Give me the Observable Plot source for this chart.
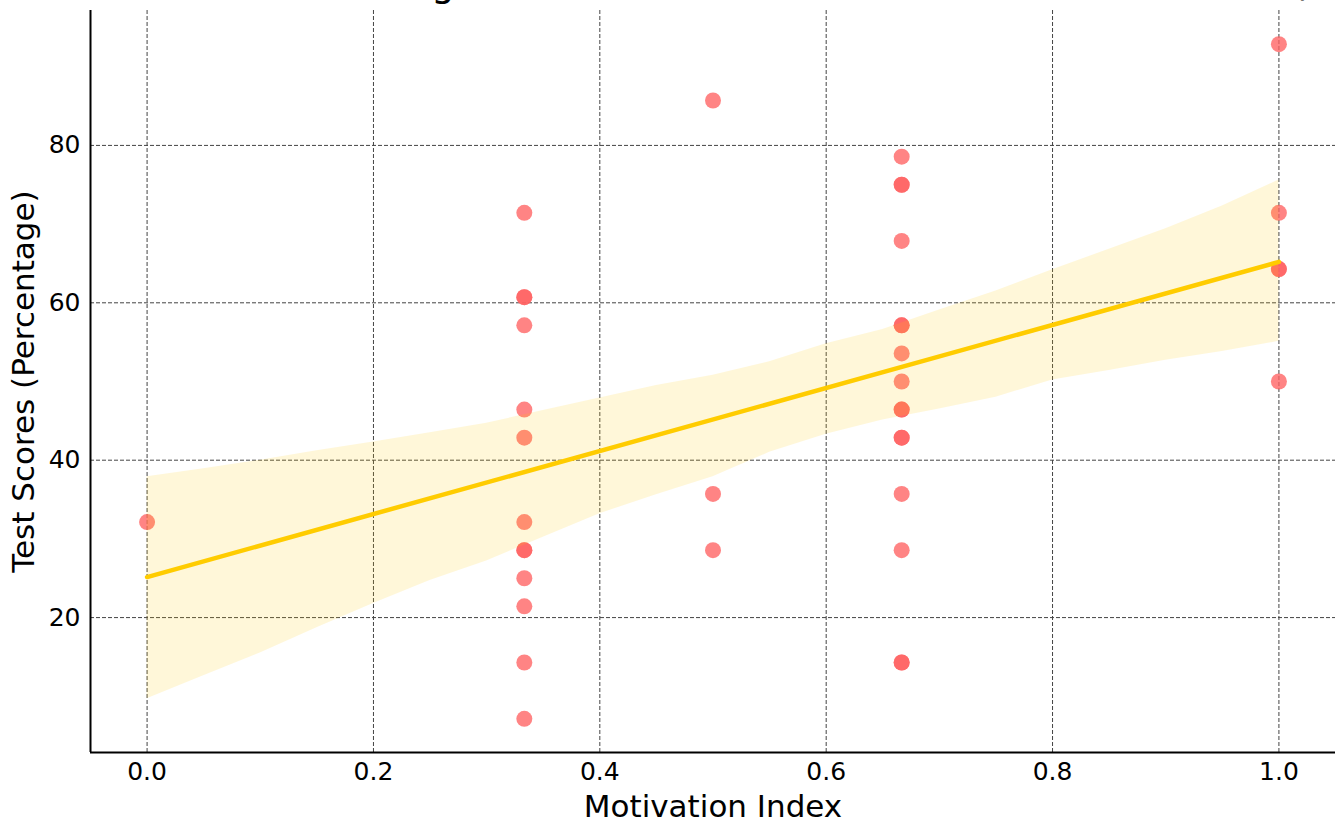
<!DOCTYPE html>
<html>
<head>
<meta charset="utf-8">
<script src="https://cdn.jsdelivr.net/npm/d3@7"></script>
<script src="https://cdn.jsdelivr.net/npm/@observablehq/plot@0.6"></script>
<style>
  html, body { margin: 0; padding: 0; background: #fff; overflow: hidden; }
  #wrap { position: relative; width: 1340px; height: 824px; }
  #title { position: absolute; left: 712px; top: -35px; transform: translateX(-50%);
           white-space: nowrap; font-family: "DejaVu Sans", sans-serif; font-size: 37px;
           line-height: 37px; color: #000; }
  #chart { position: absolute; left: 0; top: 0; }
</style>
</head>
<body>
<div id="wrap">
  <div id="chart"></div>
  <div id="title">Scatter Plot with Regression Line: Motivation Index vs Test Scores (%)</div>
</div>
<script>
// ---- data ----
const motivation = [
  0,
  0.3333, 0.3333, 0.3333, 0.3333, 0.3333, 0.3333, 0.3333, 0.3333, 0.3333, 0.3333, 0.3333, 0.3333, 0.3333,
  0.5, 0.5, 0.5,
  0.6667, 0.6667, 0.6667, 0.6667, 0.6667, 0.6667, 0.6667, 0.6667, 0.6667, 0.6667, 0.6667, 0.6667, 0.6667, 0.6667, 0.6667, 0.6667,
  1, 1, 1, 1, 1
];
const scores = [
  32.14,
  71.43, 60.71, 60.71, 57.14, 46.43, 42.86, 32.14, 28.57, 28.57, 25.00, 21.43, 14.29, 7.14,
  85.71, 35.71, 28.57,
  78.57, 75.00, 75.00, 67.86, 57.14, 57.14, 53.57, 50.00, 46.43, 46.43, 42.86, 42.86, 35.71, 28.57, 14.29, 14.29,
  92.86, 71.43, 64.29, 64.29, 50.00
];
// regression fit line
const fitX = [0, 1];
const fitY = [25.15, 65.2];
// confidence band
const bandX  = [0, 0.05, 0.1, 0.15, 0.2, 0.25, 0.3, 0.35, 0.4, 0.45, 0.5, 0.55, 0.6, 0.65, 0.7, 0.75, 0.8, 0.85, 0.9, 0.95, 1.0];
const bandHi = [37.9, 38.9, 40.0, 41.2, 42.3, 43.5, 44.7, 46.3, 47.9, 49.5, 50.8, 52.5, 54.8, 56.6, 59.1, 61.5, 64.2, 66.8, 69.4, 72.3, 75.6];
const bandLo = [9.7, 12.6, 15.5, 18.7, 21.8, 24.7, 27.2, 30.2, 33.2, 35.6, 37.9, 41.0, 43.3, 45.1, 46.5, 48.0, 50.2, 51.4, 52.7, 53.8, 55.1];
// ticks
const xTicks = [0, 0.2, 0.4, 0.6, 0.8, 1.0];
const yTicks = [20, 40, 60, 80];
const xLabel = "Motivation Index";
const yLabel = "Test Scores (Percentage)";

const xDomain = [-0.05, 1.05];
const yDomain = [2.857, 97.143];

const pts = scores.map((_, i) => i);
const band = bandX.map((_, i) => i);
const fit = fitX.map((_, i) => i);

const chart = Plot.plot({
  width: 1340,
  height: 824,
  marginLeft: 90,
  marginRight: 5,
  marginTop: 10,
  marginBottom: 72,
  style: { fontFamily: "DejaVu Sans, sans-serif", fontSize: "25px", background: "#fff", color: "#000" },
  x: { domain: xDomain, label: null },
  y: { domain: yDomain, label: null },
  marks: [
    Plot.gridX(xTicks, { stroke: "#444", strokeOpacity: 1, strokeWidth: 1, strokeDasharray: "4,2" }),
    Plot.gridY(yTicks, { stroke: "#444", strokeOpacity: 1, strokeWidth: 1, strokeDasharray: "4,2" }),
    Plot.dot(pts, { x: i => motivation[i], y: i => scores[i], r: 8, fill: "#ff6262", fillOpacity: 0.78 }),
    Plot.areaY(band, { x: i => bandX[i], y1: i => bandLo[i], y2: i => bandHi[i], fill: "#ffcc00", fillOpacity: 0.15 }),
    Plot.line(fit, { x: i => fitX[i], y: i => fitY[i], stroke: "#ffcc00", strokeWidth: 4.5 }),
    Plot.ruleX([xDomain[0]], { stroke: "#000", strokeWidth: 2 }),
    Plot.ruleY([yDomain[0]], { stroke: "#000", strokeWidth: 2 }),
    Plot.axisX(xTicks, { tickSize: 0, tickPadding: 10, tickFormat: d3.format(".1f"), label: null, fontSize: 25 }),
    Plot.axisY(yTicks, { tickSize: 0, tickPadding: 10, tickFormat: d3.format("d"), label: null, fontSize: 25 }),
    Plot.text([xLabel], { frameAnchor: "bottom", dy: 55, fontSize: 31, lineAnchor: "middle", textAnchor: "middle" }),
    Plot.text([yLabel], { frameAnchor: "left", dx: -66, rotate: -90, fontSize: 31, lineAnchor: "middle", textAnchor: "middle" })
  ]
});
document.getElementById("chart").appendChild(chart);
</script>
</body>
</html>
